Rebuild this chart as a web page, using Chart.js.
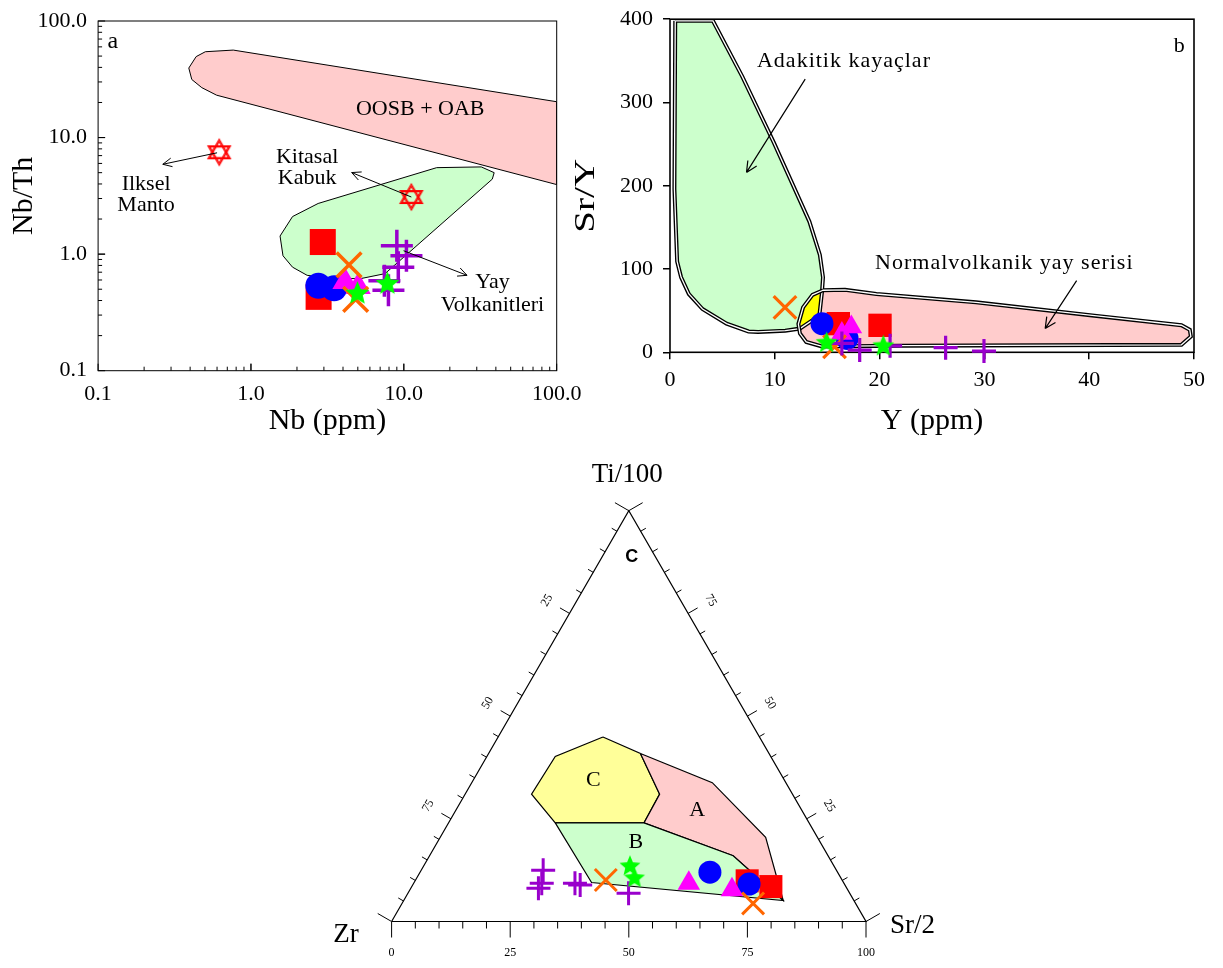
<!DOCTYPE html>
<html>
<head>
<meta charset="utf-8">
<script src="https://cdn.jsdelivr.net/npm/chart.js@4.4.1/dist/chart.umd.min.js"></script>
<style>
  body { margin: 0; background: #fff; width: 1223px; height: 968px; overflow: hidden; }
  canvas { position: absolute; }
</style>
</head>
<body>
<canvas id="chartA" width="600" height="440" style="left:0;top:0"></canvas>
<canvas id="chartB" width="663" height="440" style="left:560px;top:0"></canvas>
<canvas id="chartC" width="660" height="513" style="left:300px;top:455px"></canvas>
<script>
const SERIF = "'Liberation Serif', 'Times New Roman', serif";
const SANS = "'Liberation Sans', Arial, sans-serif";

// ---- panel a: Nb (ppm) vs Nb/Th, log-log ----
const aTicks = [0.1, 1, 10, 100];
const aSquares   = [[2.95, 1.27], [2.77, 0.43]];
const aCircles   = [[2.76, 0.535], [3.5, 0.51]];
const aTriangles = [[4.12, 0.58], [5.03, 0.525]];
const aCrosses   = [[4.38, 0.81], [4.84, 0.41]];
const aPluses    = [[9.0, 1.18], [10.4, 0.97], [9.2, 0.77], [7.46, 0.59], [7.93, 0.49]];
const aStars     = [[4.97, 0.47], [7.8, 0.57]];
const aMantle    = [[0.62, 7.48]];   // Ilksel Manto
const aCrust     = [[11.2, 3.09]];   // Kitasal Kabuk
const aOceanField = [[0.766, 56.3], [100, 20.3], [100, 3.95], [0.596, 23.1], [0.477, 26.8], [0.41, 31.5],
                     [0.392, 39.5], [0.438, 49.5], [0.503, 54.5], [0.766, 56.3]];
const aArcField = [[16.4, 5.52], [32.1, 5.6], [39, 5.0], [37.9, 4.4], [7.53, 0.68], [5.23, 0.617], [3.45, 0.617],
                   [2.33, 0.658], [1.87, 0.773], [1.62, 0.968], [1.55, 1.43], [1.87, 2.1], [2.75, 2.72], [16.4, 5.52]];

// ---- panel b: Y (ppm) vs Sr/Y ----
const bXTicks = [0, 10, 20, 30, 40, 50];
const bYTicks = [0, 100, 200, 300, 400];
const bSquares   = [[16.06, 34.4], [20.04, 32.4]];
const bCircles   = [[14.5, 34.4], [16.9, 16.6]];
const bTriangles = [[17.3, 30.4], [16.4, 22.5]];
const bCrosses   = [[10.97, 54], [15.7, 6.6]];
const bPluses    = [[18.1, 2.7], [21.0, 7.8], [16.4, 10.7], [26.3, 5.5], [29.96, 1.5]];
const bStars     = [[14.95, 12.6], [20.35, 8.7]];
const bAdakiteField = [[0.5, 398], [4.1, 398], [6.9, 331], [9.9, 252], [13.3, 157], [14.3, 117], [14.6, 90],
                       [14.5, 72], [14.25, 44], [12.4, 28.5], [11.0, 26], [8.4, 24.5], [7.5, 25], [5.4, 34.4],
                       [3.1, 52], [1.8, 70], [1.06, 90], [0.68, 109], [0.42, 196], [0.5, 398]];
const bArcField = [[14.6, 74.5], [16.7, 75], [19.7, 70], [29.2, 60], [40.5, 44], [48.8, 32.5], [49.6, 27],
                   [49.7, 19], [48.8, 9], [22, 8], [14.5, 7], [13.0, 12.5], [12.4, 22.5], [12.25, 34],
                   [12.7, 54], [13.6, 69], [14.6, 74.5]];
const bOverlap = [[14.48, 70], [14.25, 44.2], [12.4, 28.5], [12.72, 54.1], [13.67, 68], [14.48, 70]];

// ---- panel c: Zr - Ti/100 - Sr/2 ternary, points as [Zr, Ti/100, Sr/2] ----
const cTicks = [0, 25, 50, 75, 100];
const cSquares   = [[20.1, 9.9, 70.0], [15.8, 8.5, 75.7]];
const cCircles   = [[26.9, 12.0, 61.1], [20.1, 9.1, 70.8]];
const cTriangles = [[32.7, 9.3, 58.0], [24.4, 7.7, 67.9]];
const cCrosses   = [[49.8, 10.1, 40.1], [21.6, 4.4, 74.0]];
const cPluses    = [[61.8, 12.5, 25.7], [63.7, 9.3, 27.0], [65.0, 8.1, 26.9], [56.7, 9.3, 34.0],
                    [55.8, 8.9, 35.3], [46.6, 6.9, 46.5]];
const cStars     = [[42.9, 13.7, 43.4], [43.4, 10.8, 45.8]];
const cFieldC = [[33.0, 44.9, 22.1], [27.1, 40.9, 32.0], [28.0, 31.0, 41.0], [34.8, 24.0, 41.2],
                 [53.5, 24.0, 22.5], [55.0, 31.0, 14.0], [45.4, 40.2, 14.4], [33.0, 44.9, 22.1]];
const cFieldA = [[27.1, 40.9, 32.0], [15.5, 33.8, 50.7], [10.9, 20.5, 68.6], [14.9, 5.1, 80.0],
                 [20.0, 16.0, 64.0], [34.8, 24.0, 41.2], [28.0, 31.0, 41.0], [27.1, 40.9, 32.0]];
const cFieldB = [[53.5, 24.0, 22.5], [34.8, 24.0, 41.2], [20.0, 16.0, 64.0], [14.9, 5.1, 80.0],
                 [53.1, 9.5, 37.4], [53.5, 24.0, 22.5]];
const cFrame = [[100, 0, 0], [0, 0, 100], [0, 100, 0], [100, 0, 0]];

const RED = '#ff0000', BLUE = '#0000ff', MAGENTA = '#ff00ff', ORANGE = '#ff6600', PURPLE = '#9900cc', GREEN = '#00ff00';

Chart.defaults.font.family = SERIF;
Chart.defaults.color = '#000';

const xy = pts => pts.map(p => ({ x: p[0], y: p[1] }));
const tern = t => {
  const s = t[0] + t[1] + t[2];
  return { x: (t[2] + t[1] / 2) / s * 100, y: t[1] / s * 100 * Math.sqrt(3) / 2 };
};
const ternXY = pts => pts.map(tern);

function starImg(r, color) {
  const c = document.createElement('canvas');
  const s = Math.ceil(2 * r + 2);
  c.width = c.height = s;
  const g = c.getContext('2d');
  g.translate(s / 2, s / 2 + r * 0.1);
  g.beginPath();
  for (let i = 0; i < 10; i++) {
    const rr = i % 2 ? r * 0.45 : r;
    const a = -Math.PI / 2 + i * Math.PI / 5;
    g.lineTo(rr * Math.cos(a), rr * Math.sin(a));
  }
  g.closePath();
  g.fillStyle = color;
  g.fill();
  return c;
}

function davidImg(r, color) {
  const c = document.createElement('canvas');
  const s = Math.ceil(2 * r + 4);
  c.width = c.height = s;
  const g = c.getContext('2d');
  g.translate(s / 2, s / 2);
  g.strokeStyle = color;
  g.lineWidth = 1.2;
  for (const k of [r, r - 2.2]) {
    for (const rot of [-Math.PI / 2, Math.PI / 2]) {
      g.beginPath();
      for (let i = 0; i < 3; i++) {
        const a = rot + i * 2 * Math.PI / 3;
        g.lineTo(k * Math.cos(a), k * Math.sin(a));
      }
      g.closePath();
      g.stroke();
    }
  }
  return c;
}

function markerSets(groups, sz, conv) {
  const [sq, ci, tr, cr, pl, st] = groups;
  return [
    { data: conv(sq), pointStyle: 'rect', pointRadius: sz.sq, backgroundColor: RED, borderWidth: 0, order: 7 },
    { data: conv(ci), pointStyle: 'circle', pointRadius: sz.ci, backgroundColor: BLUE, borderWidth: 0, order: 6 },
    { data: conv(tr), pointStyle: 'triangle', pointRadius: sz.tr, backgroundColor: MAGENTA, borderWidth: 0, order: 5 },
    { data: conv(cr), pointStyle: 'crossRot', pointRadius: sz.cr, borderColor: ORANGE, borderWidth: sz.lw, order: 4 },
    { data: conv(pl), pointStyle: 'cross', pointRadius: sz.pl, borderColor: PURPLE, borderWidth: sz.lw, order: 3 },
    { data: conv(st), pointStyle: starImg(sz.st, GREEN), pointRadius: 10, order: 2 }
  ].map(d => Object.assign(d, { clip: false }));
}

function field(data, color, order, bw) {
  return { data, showLine: true, fill: color ? 'shape' : false, backgroundColor: color || 'transparent',
           borderColor: '#000', borderWidth: bw, pointRadius: 0, tension: 0, order };
}

const outline = (data, color, width, order) => ({
  data, showLine: true, fill: false, borderColor: color, borderWidth: width, pointRadius: 0, tension: 0, order
});

function arrow(ctx, x1, y1, x2, y2, head) {
  ctx.beginPath();
  ctx.moveTo(x1, y1);
  ctx.lineTo(x2, y2);
  const a = Math.atan2(y1 - y2, x1 - x2);
  for (const d of [-0.45, 0.45]) {
    ctx.moveTo(x2, y2);
    ctx.lineTo(x2 + head * Math.cos(a + d), y2 + head * Math.sin(a + d));
  }
  ctx.stroke();
}

// drop the extra room Chart.js keeps for the end tick labels
const fixX = h => s => { s.height = h; s.paddingLeft = 0; s.paddingRight = 0; };
const fixY = w => s => { s.width = w; s.paddingTop = 0; s.paddingBottom = 0; };

const common = {
  responsive: false,
  animation: false,
  events: [],
  plugins: { legend: { display: false }, tooltip: { enabled: false } }
};

// ---------- chart a ----------
const aLabels = [['a', 0.125, 66, 24], ['OOSB + OAB', 12.8, 17.6, 22], ['Kitasal', 2.33, 6.8, 22], ['Kabuk', 2.33, 4.5, 22],
                 ['Ilksel', 0.206, 4.0, 22], ['Manto', 0.206, 2.63, 22], ['Yay', 38, 0.57, 22], ['Volkanitleri', 38, 0.368, 22]];
const aArrows = [[[0.6, 7.4], [0.265, 5.9]], [[11.2, 3.09], [4.56, 5.01]], [[9.96, 1.07], [25.9, 0.658]]];

const aDecor = {
  id: 'aDecor',
  beforeDatasetsDraw(chart) {
    const { ctx, chartArea: ca, scales: { x, y } } = chart;
    ctx.save();
    ctx.strokeStyle = '#000';
    ctx.lineWidth = 1;
    ctx.strokeRect(ca.left, ca.top, ca.right - ca.left, ca.bottom - ca.top);
    ctx.beginPath();
    for (const d of [0.1, 1, 10]) {
      for (let m = 1; m <= 10; m++) {
        const v = d * m, len = (m === 1 || m === 10) ? 7 : 4;
        const px = x.getPixelForValue(v), py = y.getPixelForValue(v);
        ctx.moveTo(px, ca.bottom); ctx.lineTo(px, ca.bottom - len);
        ctx.moveTo(ca.left, py); ctx.lineTo(ca.left + len, py);
      }
    }
    ctx.stroke();
    ctx.restore();
  },
  afterDatasetsDraw(chart) {
    const { ctx, scales: { x, y } } = chart;
    ctx.save();
    ctx.fillStyle = '#000';
    ctx.textAlign = 'center';
    ctx.textBaseline = 'middle';
    for (const [t, vx, vy, fs] of aLabels) {
      ctx.font = `${fs}px ${SERIF}`;
      ctx.fillText(t, x.getPixelForValue(vx), y.getPixelForValue(vy));
    }
    ctx.strokeStyle = '#000';
    ctx.lineWidth = 1;
    for (const [p, q] of aArrows) {
      arrow(ctx, x.getPixelForValue(p[0]), y.getPixelForValue(p[1]), x.getPixelForValue(q[0]), y.getPixelForValue(q[1]), 10);
    }
    ctx.restore();
  }
};

const logLabel = v => {
  const t = aTicks.find(m => Math.abs(v - m) < m * 1e-6);
  return t === undefined ? '' : (t < 1 ? String(t) : t.toFixed(1));
};

new Chart(document.getElementById('chartA'), {
  type: 'scatter',
  data: {
    datasets: [
      field(xy(aOceanField), '#ffcccc', 21, 1),
      field(xy(aArcField), '#ccffcc', 20, 1),
      ...markerSets([aSquares, aCircles, aTriangles, aCrosses, aPluses, aStars],
                    { sq: 18.4, ci: 13, tr: 14.5, cr: 17.5, pl: 16, st: 12.5, lw: 3.5 }, xy),
      { data: xy(aMantle.concat(aCrust)), pointStyle: davidImg(13, RED), pointRadius: 10, order: 1, clip: false }
    ]
  },
  options: Object.assign({}, common, {
    layout: { padding: { left: 0, right: 43.3, top: 14, bottom: 0 } },
    scales: {
      x: {
        type: 'logarithmic', min: 0.1, max: 100,
        afterFit: fixX(69.3),
        grid: { display: false, drawTicks: false }, border: { display: false },
        ticks: { autoSkip: false, maxRotation: 0, minRotation: 0, padding: 10, font: { size: 22 }, callback: logLabel },
        title: { display: true, text: 'Nb (ppm)', font: { size: 30, lineHeight: 1 }, padding: { top: 0, bottom: 4 } }
      },
      y: {
        type: 'logarithmic', min: 0.1, max: 100,
        afterFit: fixY(98.1),
        grid: { display: false, drawTicks: false }, border: { display: false },
        ticks: { autoSkip: false, padding: 11, font: { size: 22 }, callback: logLabel },
        title: { display: true, text: 'Nb/Th', font: { size: 30, lineHeight: 1 }, padding: { top: 9, bottom: 0 } }
      }
    }
  }),
  plugins: [aDecor]
});

// ---------- chart b ----------
const bLabels = [['b', 48.6, 367, 0], ['Adakitik kayaçlar', 16.6, 350, 1], ['Normalvolkanik yay serisi', 31.9, 107.5, 1]];
const bArrows = [[[12.9, 328], [7.3, 216]], [[38.8, 86], [35.8, 28.5]]];

const bDecor = {
  id: 'bDecor',
  beforeDatasetsDraw(chart) {
    const { ctx, chartArea: ca } = chart;
    ctx.save();
    ctx.strokeStyle = '#000';
    ctx.lineWidth = 1.6;
    ctx.strokeRect(ca.left, ca.top, ca.right - ca.left, ca.bottom - ca.top);
    ctx.restore();
  },
  afterDatasetsDraw(chart) {
    const { ctx, chartArea: ca, scales: { x, y } } = chart;
    ctx.save();
    ctx.fillStyle = '#000';
    ctx.textAlign = 'center';
    ctx.textBaseline = 'middle';
    ctx.font = `22px ${SERIF}`;
    for (const [t, vx, vy, sp] of bLabels) {
      ctx.letterSpacing = sp + 'px';
      ctx.fillText(t, x.getPixelForValue(vx), y.getPixelForValue(vy));
    }
    ctx.letterSpacing = '0px';
    ctx.strokeStyle = '#000';
    ctx.lineWidth = 1.2;
    for (const [p, q] of bArrows) {
      arrow(ctx, x.getPixelForValue(p[0]), y.getPixelForValue(p[1]), x.getPixelForValue(q[0]), y.getPixelForValue(q[1]), 12);
    }
    // y title, set lower and wider than the scale title would be
    ctx.translate(ca.left - 84, y.getPixelForValue(188));
    ctx.rotate(-Math.PI / 2);
    ctx.scale(1.35, 1);
    ctx.font = `29px ${SERIF}`;
    ctx.fillText('Sr/Y', 0, 0);
    ctx.restore();
  }
};

new Chart(document.getElementById('chartB'), {
  type: 'scatter',
  data: {
    datasets: [
      field(xy(bAdakiteField), '#ccffcc', 30, 0),
      field(xy(bArcField), '#ffcccc', 29, 0),
      field(xy(bOverlap), '#ffff00', 28, 0),
      outline(xy(bAdakiteField), '#000', 4, 27),
      outline(xy(bAdakiteField), '#fff', 1.3, 26),
      outline(xy(bArcField), '#000', 4, 25),
      outline(xy(bArcField), '#fff', 1.3, 24),
      ...markerSets([bSquares, bCircles, bTriangles, bCrosses, bPluses, bStars],
                    { sq: 16.5, ci: 11.5, tr: 12.5, cr: 16, pl: 12, st: 11.5, lw: 3.2 }, xy)
    ]
  },
  options: Object.assign({}, common, {
    layout: { padding: { left: 0, right: 29, top: 15, bottom: 0 } },
    scales: {
      x: {
        type: 'linear', min: 0, max: 50,
        afterFit: fixX(87.7),
        afterBuildTicks: s => { s.ticks = bXTicks.map(v => ({ value: v })); },
        grid: { display: true, drawOnChartArea: false, drawTicks: true, tickLength: 7, color: '#000', lineWidth: 1.5 },
        border: { display: false },
        ticks: { maxRotation: 0, padding: 8, font: { size: 22 } },
        title: { display: true, text: 'Y (ppm)', font: { size: 30, lineHeight: 1 }, padding: { top: 0, bottom: 4 } }
      },
      y: {
        type: 'linear', min: 0, max: 400,
        afterFit: fixY(110),
        afterBuildTicks: s => { s.ticks = bYTicks.map(v => ({ value: v })); },
        grid: { display: true, drawOnChartArea: false, drawTicks: true, tickLength: 7, color: '#000', lineWidth: 1.5 },
        border: { display: false },
        ticks: { padding: 10, font: { size: 22 } }
      }
    }
  }),
  plugins: [bDecor]
});

// ---------- chart c (ternary) ----------
const cLabels = [['C', [40.3, 34.3, 25.4]], ['A', [22.1, 27.0, 50.9]], ['B', [38.9, 19.2, 41.9]]];

const cDecor = {
  id: 'cDecor',
  afterDatasetsDraw(chart) {
    const { ctx, scales: { x, y } } = chart;
    const px = t => { const p = tern(t); return [x.getPixelForValue(p.x), y.getPixelForValue(p.y)]; };
    ctx.save();
    ctx.strokeStyle = '#000';
    ctx.lineWidth = 1;
    const tick = (p, dx, dy, len) => { ctx.beginPath(); ctx.moveTo(p[0], p[1]); ctx.lineTo(p[0] + dx * len, p[1] + dy * len); ctx.stroke(); };
    for (let v = 0; v <= 100; v += 5) {
      const side = (v === 0 || v === 100) ? 16 : (v % 25 === 0 ? 11 : 6);
      tick(px([100 - v, 0, v]), 0, 1, v % 25 === 0 ? 16 : 7);
      tick(px([v, 100 - v, 0]), -0.866, -0.5, side);
      tick(px([0, v, 100 - v]), 0.866, -0.5, side);
    }
    ctx.fillStyle = '#000';
    ctx.textAlign = 'center';
    ctx.textBaseline = 'middle';
    ctx.font = `12px ${SERIF}`;
    for (const v of cTicks) {
      const p = px([100 - v, 0, v]);
      ctx.fillText(String(v), p[0], p[1] + 31);
    }
    for (const v of cTicks.slice(1, 4)) {
      let p = px([v, 100 - v, 0]);
      ctx.save(); ctx.translate(p[0] - 0.866 * 26, p[1] - 0.5 * 26); ctx.rotate(-Math.PI / 3);
      ctx.fillText(String(v), 0, 0); ctx.restore();
      p = px([0, v, 100 - v]);
      ctx.save(); ctx.translate(p[0] + 0.866 * 26, p[1] - 0.5 * 26); ctx.rotate(Math.PI / 3);
      ctx.fillText(String(v), 0, 0); ctx.restore();
    }
    ctx.font = `27px ${SERIF}`;
    let p = px([0, 100, 0]);
    ctx.fillText('Ti/100', p[0] - 1.5, p[1] - 36);
    p = px([100, 0, 0]);
    ctx.fillText('Zr', p[0] - 45.6, p[1] + 13.5);
    p = px([0, 0, 100]);
    ctx.fillText('Sr/2', p[0] + 46.5, p[1] + 4.5);
    ctx.font = `22px ${SERIF}`;
    for (const [t, pos] of cLabels) {
      p = px(pos);
      ctx.fillText(t, p[0], p[1]);
    }
    ctx.font = `bold 18px ${SANS}`;
    p = px([5.0, 88.8, 6.2]);
    ctx.fillText('C', p[0], p[1]);
    ctx.restore();
  }
};

new Chart(document.getElementById('chartC'), {
  type: 'scatter',
  data: {
    datasets: [
      field(ternXY(cFieldC), '#ffff99', 30, 1.2),
      field(ternXY(cFieldA), '#ffcccc', 29, 1.2),
      field(ternXY(cFieldB), '#ccffcc', 28, 1.2),
      Object.assign(outline(ternXY(cFrame), '#000', 1.2, 27), { clip: false }),
      ...markerSets([cSquares, cCircles, cTriangles, cCrosses, cPluses, cStars],
                    { sq: 16.3, ci: 11.5, tr: 13, cr: 15.5, pl: 12, st: 11, lw: 3 }, ternXY)
    ]
  },
  options: Object.assign({}, common, {
    layout: { padding: { left: 91.6, right: 94, top: 55.7, bottom: 46.5 } },
    scales: {
      x: { type: 'linear', display: false, min: 0, max: 100 },
      y: { type: 'linear', display: false, min: 0, max: 50 * Math.sqrt(3) }
    }
  }),
  plugins: [cDecor]
});
</script>
</body>
</html>
